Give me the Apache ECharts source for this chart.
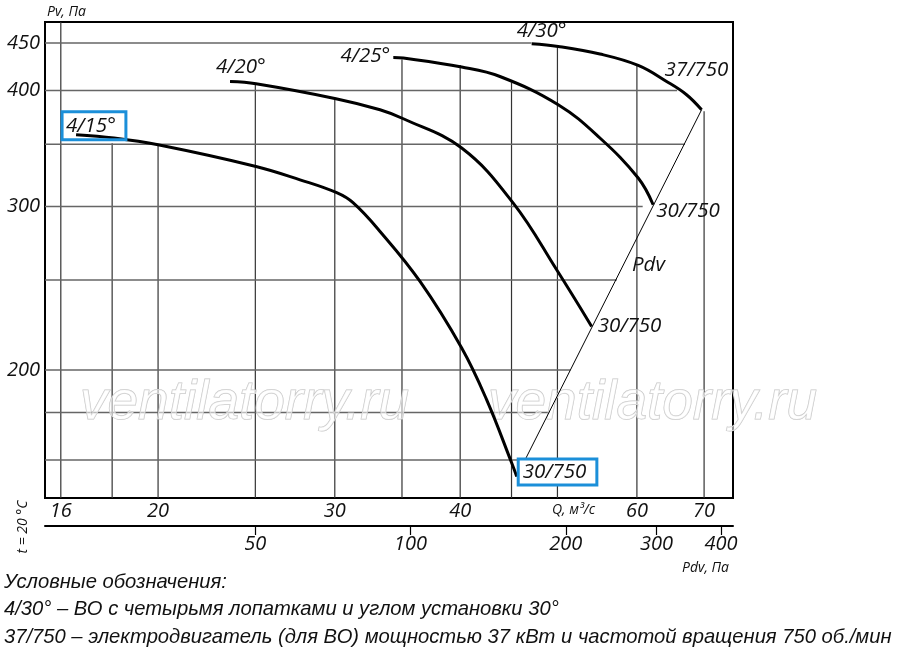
<!DOCTYPE html>
<html>
<head>
<meta charset="utf-8">
<title>ВО 4 лопатки, 750 об/мин</title>
<script src="https://cdn.jsdelivr.net/npm/echarts@6/dist/echarts.min.js"></script>
<style>html,body{margin:0;padding:0;background:#fff;}</style>
</head>
<body>
<div id="main" style="width:900px;height:655px;"></div>
<script>
// axes (log scales)
var qRange = [15.43, 74.8];      // Q, м3/с
var pRange = [145.6, 474];       // Pv, Па
var pdvRange = [19.55, 422];     // Pdv, Па
var qTicks = [16, 20, 30, 40, 60, 70];
var pTicks = [200, 300, 400, 450];
var pdvTicks = [50, 100, 200, 300, 400];

// grid lines drawn only under the curves: [Q, Pv top] and [Q end, Pv]
var vGrid = [[16, 474], [18, 351], [20, 349], [25, 406], [30, 391], [35, 432],
             [40, 426], [45, 408], [50, 446], [60, 425], [70, 380]];
var hGrid = [[47.1, 450], [65.8, 400], [67.0, 350], [60.8, 300],
             [57.3, 250], [51.5, 200], [49.1, 180], [46.2, 160]];

// характеристики [Q, Pv]
var curve15 = [[16.57, 358.4], [18.08, 355.5], [20, 349.6], [25.04, 331.3], [27.7, 320.5],
               [30.13, 310.4], [31.28, 302.8], [33.28, 282], [36.48, 249.1], [40.14, 211.2],
               [42.51, 185.7], [45.02, 158.8], [45.54, 153.6]];
var curve20 = [[23.59, 409], [25.04, 406.7], [30.08, 391.9], [33.28, 381.3], [35.11, 372.9],
               [40.14, 346.8], [45.18, 302.5], [49.91, 256.4], [54.08, 222.8]];
var curve25 = [[34.31, 434.1], [35.11, 433.5], [40.14, 423.9], [43.82, 414.1], [50.09, 386.1],
               [55.12, 355.5], [60.18, 321.9], [62.28, 301.3]];
var curve30 = [[47.13, 449.1], [50.09, 446.1], [55.12, 437.8], [60.18, 425.6], [64.23, 409],
               [67.24, 395.8], [69.6, 381.3]];
var pdvLine = [[45.54, 153.6], [69.6, 381.3]];

var angles = ['4/15°', '4/20°', '4/25°', '4/30°'];
var motors = ['30/750', '30/750', '30/750', '37/750'];

var legendLines = [
    'Условные обозначения:',
    '4/30° – ВО с четырьмя лопатками и углом установки 30°',
    '37/750 – электродвигатель (для ВО) мощностью 37 кВт и частотой вращения 750 об./мин'
];

var FONT = 'Open Sans';
var tickFont = {fontFamily: FONT, fontStyle: 'italic', fontSize: 20, color: '#111'};
var lblFont = {fontFamily: FONT, fontStyle: 'italic', fontSize: 20.5, color: '#111'};
var boxBlue = '#1b8fd9';

var myChart = echarts.init(document.getElementById('main'));

function gridSeries(data, vertical) {
    return {
        type: 'custom', z: 0, silent: true, data: data,
        renderItem: function (params, api) {
            var a, b;
            if (vertical) {
                a = api.coord([api.value(0), api.value(1)]);
                b = api.coord([api.value(0), pRange[0]]);
            } else {
                a = api.coord([qRange[0], api.value(1)]);
                b = api.coord([api.value(0), api.value(1)]);
            }
            return {
                type: 'line',
                shape: {x1: a[0], y1: a[1], x2: b[0], y2: b[1]},
                style: vertical ? {stroke: '#333', lineWidth: 1.2} : {stroke: '#666', lineWidth: 1.6}
            };
        }
    };
}

function curveSeries(data, i, startLbl, endLbl) {
    return {
        type: 'line', data: data, smooth: 0.4, symbol: 'none', z: 3, silent: true,
        lineStyle: {color: '#000', width: 3},
        markPoint: {
            symbol: 'circle', symbolSize: 1, silent: true,
            itemStyle: {color: 'rgba(0,0,0,0)'},
            label: Object.assign({show: true, position: 'inside'}, lblFont),
            data: [
                {coord: data[0], label: Object.assign({formatter: angles[i]}, startLbl)},
                {coord: data[data.length - 1], label: Object.assign({formatter: motors[i]}, endLbl)}
            ]
        }
    };
}

var graphics = [
    {type: 'text', x: 47, y: 12, style: {text: 'Pv, Па', font: 'italic 14px "' + FONT + '"', fill: '#111', verticalAlign: 'middle'}},
    {type: 'text', x: 552, y: 510, style: {text: 'Q, м³/с', font: 'italic 14px "' + FONT + '"', fill: '#111', verticalAlign: 'middle'}},
    {type: 'text', x: 682, y: 568, style: {text: 'Pdv, Па', font: 'italic 14px "' + FONT + '"', fill: '#111', verticalAlign: 'middle'}},
    {type: 'text', x: 23, y: 527, rotation: Math.PI / 2,
     style: {text: 't = 20 °C', font: 'italic 14px "' + FONT + '"', fill: '#111', align: 'center', verticalAlign: 'middle'}},
    {type: 'text', x: 632, y: 265, style: {text: 'Pdv', font: 'italic 20.5px "' + FONT + '"', fill: '#111', verticalAlign: 'middle'}},
    {type: 'text', x: 80, y: 404, z: 1, style: {text: 'ventilatorry.ru', font: 'italic 55px "Liberation Sans"',
     fill: 'rgba(255,255,255,0.55)', stroke: '#c4c4c4', lineWidth: 1, verticalAlign: 'middle'}},
    {type: 'text', x: 488, y: 404, z: 1, style: {text: 'ventilatorry.ru', font: 'italic 55px "Liberation Sans"',
     fill: 'rgba(255,255,255,0.55)', stroke: '#c4c4c4', lineWidth: 1, verticalAlign: 'middle'}}
];
legendLines.forEach(function (t, k) {
    graphics.push({type: 'text', x: 4, y: 582 + k * 27.5,
        style: {text: t, font: 'italic 20.2px "Liberation Sans"', fill: '#111', verticalAlign: 'middle'}});
});

var option = {
    backgroundColor: '#fff',
    animation: false,
    grid: {left: 45, top: 22, width: 688, height: 476, show: true, borderColor: '#000', borderWidth: 2},
    xAxis: [{
        type: 'log', min: qRange[0], max: qRange[1],
        axisLine: {show: false}, axisTick: {show: false}, splitLine: {show: false},
        axisLabel: Object.assign({customValues: qTicks, margin: 3}, tickFont)
    }, {
        type: 'log', min: pdvRange[0], max: pdvRange[1], position: 'bottom', offset: 28,
        axisLine: {show: true, lineStyle: {color: '#000', width: 2}},
        axisTick: {show: true, customValues: pdvTicks, length: 9, lineStyle: {color: '#000', width: 1.2}},
        splitLine: {show: false},
        axisLabel: Object.assign({customValues: pdvTicks, margin: 8}, tickFont)
    }],
    yAxis: {
        type: 'log', min: pRange[0], max: pRange[1],
        axisLine: {show: false}, axisTick: {show: false}, splitLine: {show: false},
        axisLabel: Object.assign({customValues: pTicks, margin: 5}, tickFont)
    },
    graphic: graphics,
    series: [
        gridSeries(vGrid, true),
        gridSeries(hGrid, false),
        {type: 'line', data: pdvLine, symbol: 'none', z: 2, silent: true, lineStyle: {color: '#000', width: 1}},
        curveSeries(curve15, 0,
            {align: 'left', verticalAlign: 'top', offset: [-14, -23], borderColor: boxBlue, borderWidth: 3,
             padding: [1, 10, 1, 4], lineHeight: 26},
            {align: 'left', verticalAlign: 'top', offset: [3, -16], borderColor: boxBlue, borderWidth: 3,
             backgroundColor: '#fff', padding: [0, 9, 0, 3], lineHeight: 23}),
        curveSeries(curve20, 1,
            {align: 'left', verticalAlign: 'middle', offset: [-14, -14]},
            {align: 'left', verticalAlign: 'middle', offset: [6, 0]}),
        curveSeries(curve25, 2,
            {align: 'right', verticalAlign: 'middle', offset: [-3, -1]},
            {align: 'left', verticalAlign: 'middle', offset: [3, 6]}),
        curveSeries(curve30, 3,
            {align: 'left', verticalAlign: 'middle', offset: [-15, -13]},
            {align: 'left', verticalAlign: 'middle', offset: [-37, -40]})
    ]
};
myChart.setOption(option);
</script>
</body>
</html>
